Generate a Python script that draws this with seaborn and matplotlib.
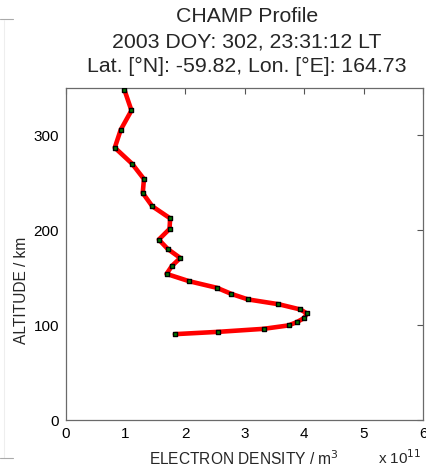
import matplotlib
matplotlib.use("Agg")
import matplotlib.pyplot as plt
import seaborn as sns
import pandas as pd
from matplotlib.lines import Line2D

density = [0.98, 1.10, 0.92, 0.82, 1.11, 1.31, 1.29, 1.45, 1.75, 1.74, 1.56, 1.71,
           1.92, 1.78, 1.69, 2.07, 2.54, 2.78, 3.06, 3.57, 3.94, 4.05, 4.00, 3.88,
           3.74, 3.32, 2.55, 1.83]
altitude = [348.4, 326.3, 306.0, 287.1, 270.2, 254.0, 239.3, 225.3, 212.6, 201.4,
            190.2, 180.3, 170.8, 162.4, 154.0, 146.3, 139.3, 132.9, 127.1, 122.1,
            116.5, 112.3, 107.4, 103.2, 99.7, 96.1, 92.9, 90.5]
x_ticks = [0, 1, 2, 3, 4, 5, 6]
y_ticks = [0, 100, 200, 300]
title_lines = ["CHAMP Profile", "2003 DOY: 302, 23:31:12 LT", "Lat. [°N]: -59.82, Lon. [°E]: 164.73"]

df = pd.DataFrame({"density": density, "altitude": altitude})

sns.set_style("white")
plt.rcParams["font.family"] = ["Liberation Sans", "DejaVu Sans"]

W, H = 426, 469
fig = plt.figure(figsize=(W / 100, H / 100), dpi=100)
ax = fig.add_axes([66 / W, 1 - 420 / H, (423 - 66) / W, (420 - 88) / H])

sns.lineplot(data=df, x="density", y="altitude", sort=False, estimator=None,
             color="red", linewidth=3.3, ax=ax, zorder=2)
sns.scatterplot(data=df, x="density", y="altitude", marker="s", s=12,
                color="#007a00", edgecolor="black", linewidth=1.0, ax=ax, zorder=3)

ax.set_xlim(0, 6)
ax.set_ylim(0, 350)
ax.set_xticks(x_ticks)
ax.set_yticks(y_ticks)
ax.set_xticklabels([str(t) for t in x_ticks])
ax.set_yticklabels([str(t) for t in y_ticks])
ax.tick_params(direction="in", length=4, width=0.8, color="#555555",
               top=True, right=True, labelsize=11, pad=5, labelcolor="black")
for s in ax.spines.values():
    s.set_color("#6a6a6a")
    s.set_linewidth(0.9)
    s.set_visible(True)
ax.set_xlabel("")
ax.set_ylabel("")

fig.text(244 / W, 1 - 459 / H, "ELECTRON DENSITY / m$^3$", ha="center", va="center", fontsize=11.2)
fig.text(400 / W, 1 - 458 / H, "x 10$^{11}$", ha="center", va="center", fontsize=11)
fig.text(22 / W, 1 - 290 / H, "ALTITUDE / km", ha="center", va="center", rotation=90, fontsize=11.2)

for i, line in enumerate(title_lines):
    fig.text(247 / W, 1 - (17 + 24.5 * i) / H, line, ha="center", va="center", fontsize=15.3)

# faint frame remnants at left edge
fig.add_artist(Line2D([0, 13 / W], [1 - 19 / H, 1 - 19 / H], color="#aaaaaa", lw=0.8))
fig.add_artist(Line2D([4 / W, 4 / W], [1 - 20 / H, 1 - 458 / H], color="#eeeeee", lw=0.8))
fig.add_artist(Line2D([0, 13 / W], [1 - 458 / H, 1 - 458 / H], color="#aaaaaa", lw=0.8))

fig.savefig("out.png", dpi=100)
